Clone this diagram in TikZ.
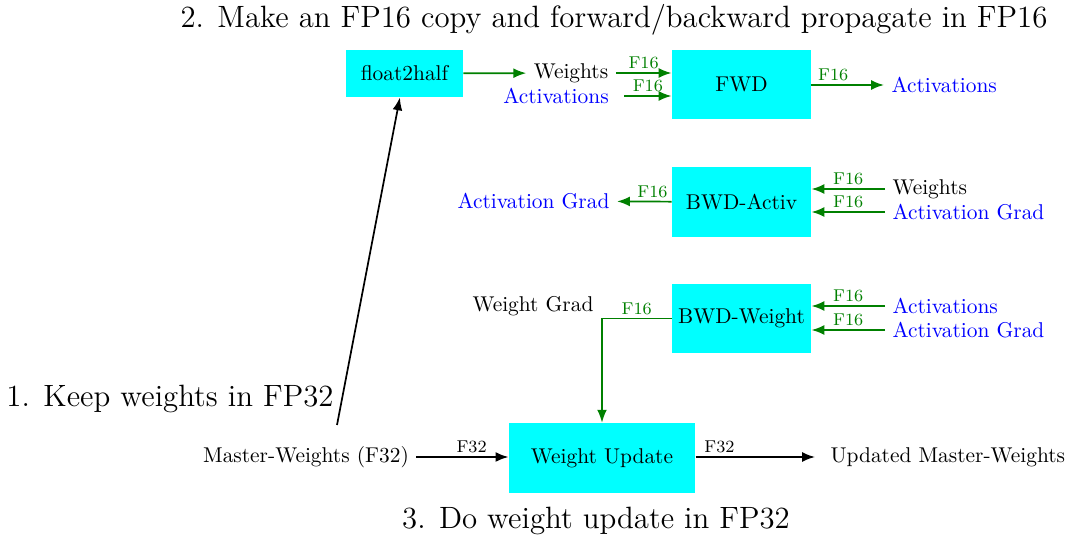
\documentclass[tikz,border=0pt]{standalone}
\usetikzlibrary{calc,arrows.meta}
\definecolor{Dgreen}{rgb}{0,0.5,0}
\definecolor{Dcyan}{rgb}{0,1,1}
\tikzset{%
    Dbox/.style={fill=Dcyan, inner sep=0pt, minimum width=#1, minimum height=32.6pt}, Dbox/.default={65pt},
    Darrow/.style={thick, -{Latex[length=6pt,width=4.6pt]}, draw=#1}, Darrow/.default={Dgreen},
    Dlab/.style={font=\footnotesize, text=#1, above, inner sep=1.5pt}, Dlab/.default={Dgreen},
    Dtitle/.style={font=\Large}
}

\begin{document}
\begin{tikzpicture}[x=0.4673pt, y=-0.4673pt]
        \useasboundingbox (0,0) rectangle (1073,537);
        % boxes
        \path
            (404.5,73.5) node [Dbox=54.7pt, minimum height=22pt] (f2h) {float2half}
            (741.5,84.5) node [Dbox] (fwd) {FWD}
            (741.5,202) node [Dbox] (bwda) {BWD-Activ}
            (741.5,318.5) node [Dbox] (bwdw) {BWD-Weight}
            (602,458) node [Dbox=87pt] (wu) {Weight Update};
        % texts
        \path
            (571,73) node (fwdw) {Weights}
            (556,96) node [text=blue] (fwda) {Activations}
            (884,85) node [anchor=west, text=blue] (fwdout) {Activations}
            (617,201) node [anchor=east, text=blue] (bwdaout) {Activation Grad}
            (885,189) node [anchor=west] (bwdaw) {Weights}
            (885,212) node [anchor=west, text=blue] (bwdag) {Activation Grad}
            (533,306) node (wgrad) {Weight Grad}
            (885,306) node [anchor=west, text=blue] (bwdwa) {Activations}
            (885,330) node [anchor=west, text=blue] (bwdwg) {Activation Grad}
            (306,457) node (mw) {Master-Weights (F32)}
            (823,457) node [anchor=west] (umw) {Updated Master-Weights}
            (614,20) node [Dtitle] (t2) {2. Make an FP16 copy and forward/backward propagate in FP16}
            (170,399) node [Dtitle] (t1) {1. Keep weights in FP32}
            (596,521) node [Dtitle] (t3) {3. Do weight update in FP32}
            (337,425) coordinate (keep);
        % forward
        \draw [Darrow] (f2h) -- (fwdw);
        \draw [Darrow] (fwdw.east) -- node [Dlab] {F16} (fwdw.east -| fwd.west);
        \draw [Darrow] ($(fwda.east)+(8,0)$) -- node [Dlab] {F16} (fwda.east -| fwd.west);
        \draw [Darrow] (fwd.east |- fwdout) -- node [Dlab, pos=0.3] {F16} (fwdout);
        % backward
        \draw [Darrow] (bwda) -- node [Dlab, pos=0.35] {F16} (bwdaout);
        \draw [Darrow] (bwdaw) -- node [Dlab] {F16} (bwdaw -| bwda.east);
        \draw [Darrow] (bwdag) -- node [Dlab] {F16} (bwdag -| bwda.east);
        \draw [Darrow] (bwdwa) -- node [Dlab] {F16} (bwdwa -| bwdw.east);
        \draw [Darrow] (bwdwg) -- node [Dlab] {F16} (bwdwg -| bwdw.east);
        \draw [Darrow] (bwdw) -| node [Dlab, pos=0.25] {F16} (wu);
        % update
        \draw [Darrow=black] (mw) -- node [Dlab=black, pos=0.6] {F32} (mw -| wu.west);
        \draw [Darrow=black] (wu.east |- umw) -- node [Dlab=black, pos=0.2] {F32} ($(umw.west)+(-8,0)$);
        \draw [Darrow=black] (keep) -- (f2h);
    \end{tikzpicture}
\end{document}
